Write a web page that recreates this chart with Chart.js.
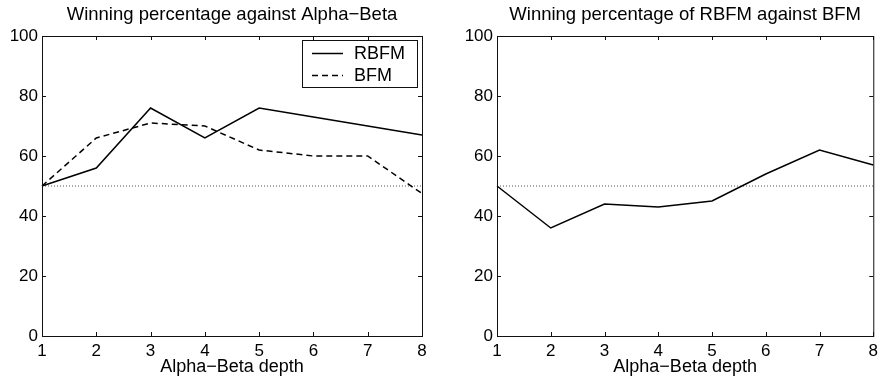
<!DOCTYPE html>
<html>
<head>
<meta charset="utf-8">
<script src="https://cdn.jsdelivr.net/npm/chart.js@4.4.0/dist/chart.umd.min.js"></script>
<style>
  html, body { margin: 0; padding: 0; background: #fff; }
  #wrap { position: relative; width: 883px; height: 378px; overflow: hidden; }
  #left { position: absolute; left: 0; top: 0; }
  #right { position: absolute; left: 441px; top: 0; }
</style>
</head>
<body>
<div id="wrap">
  <canvas id="left" width="441" height="378"></canvas>
  <canvas id="right" width="442" height="378"></canvas>
</div>
<script>
// Data
const depths = ['1', '2', '3', '4', '5', '6', '7', '8'];
const rbfmVsAlphaBeta = [50, 56, 76, 66, 76, 73, 70, 67];
const bfmVsAlphaBeta = [50, 66, 71, 70, 62, 60, 60, 47.5];
const rbfmVsBfm = [50, 36, 44, 43, 45, 54, 62, 57];
const evenLine = [50, 50, 50, 50, 50, 50, 50, 50];
const yTicks = [0, 20, 40, 60, 80, 100];

Chart.defaults.font.family = '"Liberation Sans", Arial, Helvetica, sans-serif';
Chart.defaults.color = '#000';
Chart.defaults.animation = false;

// box around the plot with inward ticks on all four sides
const boxPlugin = {
  id: 'box',
  afterDraw(chart) {
    const ctx = chart.ctx;
    const a = chart.chartArea;
    const xs = chart.scales.x, ys = chart.scales.y;
    ctx.save();
    ctx.strokeStyle = '#111';
    ctx.lineWidth = 1;
    ctx.strokeRect(a.left + 0.5, a.top + 0.5, a.right - a.left, a.bottom - a.top);
    ctx.beginPath();
    depths.forEach((d, i) => {
      const px = Math.round(xs.getPixelForValue(i)) + 0.5;
      ctx.moveTo(px, a.bottom); ctx.lineTo(px, a.bottom - 4);
      ctx.moveTo(px, a.top); ctx.lineTo(px, a.top + 4);
    });
    yTicks.forEach(v => {
      const py = Math.round(ys.getPixelForValue(v)) + 0.5;
      ctx.moveTo(a.left, py); ctx.lineTo(a.left + 4, py);
      ctx.moveTo(a.right, py); ctx.lineTo(a.right - 4, py);
    });
    ctx.stroke();
    ctx.restore();
  }
};

// matlab style legend box, only on the left plot
const legendBoxPlugin = {
  id: 'legendBox',
  afterDraw(chart, args, opts) {
    if (!opts.show) return;
    const ctx = chart.ctx;
    const x0 = 302, y0 = 40, w = 115, h = 47;
    ctx.save();
    ctx.fillStyle = '#fff';
    ctx.fillRect(x0, y0, w, h);
    ctx.strokeStyle = '#111';
    ctx.lineWidth = 1;
    ctx.strokeRect(x0 + 0.5, y0 + 0.5, w, h);
    ctx.font = '18px "Liberation Sans", Arial, sans-serif';
    ctx.textBaseline = 'middle';
    ctx.fillStyle = '#000';
    const rows = chart.data.datasets.filter(ds => ds.label);
    rows.forEach((ds, i) => {
      const y = y0 + 13 + i * 22;
      ctx.beginPath();
      ctx.setLineDash(ds.borderDash || []);
      ctx.lineWidth = ds.borderWidth;
      ctx.strokeStyle = ds.borderColor;
      ctx.moveTo(x0 + 10, y + 0.5);
      ctx.lineTo(x0 + 41, y + 0.5);
      ctx.stroke();
      ctx.setLineDash([]);
      ctx.fillText(ds.label, x0 + 52, y + 1);
    });
    ctx.restore();
  }
};

function makeOptions(title, yWidth, rightPad, showLegend) {
  return {
    responsive: false,
    layout: { padding: { left: 0, right: rightPad, top: 0, bottom: 0 } },
    elements: { point: { radius: 0 }, line: { tension: 0 } },
    plugins: {
      legend: { display: false },
      tooltip: { enabled: false },
      legendBox: { show: showLegend }
    },
    scales: {
      x: {
        type: 'category',
        offset: false,
        grid: { display: false, drawTicks: false },
        border: { display: false },
        ticks: { font: { size: 17 }, padding: 5, maxRotation: 0, autoSkip: false },
        title: { display: true, text: 'Alpha\u2212Beta depth', font: { size: 18 }, padding: 0 },
        afterFit(scale) { scale.height = 42; }
      },
      // top axis only carries the plot title so it is centred over the plot box
      top: {
        type: 'category',
        position: 'top',
        offset: false,
        grid: { display: false, drawTicks: false },
        border: { display: false },
        ticks: { display: false },
        title: { display: true, text: title, font: { size: 18.5 }, padding: { top: 4, bottom: 0 } },
        afterFit(scale) { scale.height = 36; }
      },
      y: {
        min: 0,
        max: 100,
        grid: { display: false, drawTicks: false },
        border: { display: false },
        ticks: { stepSize: 20, font: { size: 17 }, padding: 4 },
        afterFit(scale) { scale.width = yWidth; }
      }
    }
  };
}

function baseDataset() {
  return {
    data: evenLine,
    borderColor: '#555',
    borderWidth: 1,
    borderDash: [1, 2]
  };
}

new Chart(document.getElementById('left'), {
  type: 'line',
  data: {
    labels: depths,
    datasets: [
      { label: 'RBFM', data: rbfmVsAlphaBeta, borderColor: '#000', borderWidth: 1.5 },
      { label: 'BFM', data: bfmVsAlphaBeta, borderColor: '#000', borderWidth: 1.5, borderDash: [6, 4] },
      baseDataset()
    ]
  },
  options: makeOptions('Winning percentage against Alpha\u2212Beta', 42, 19, true),
  plugins: [boxPlugin, legendBoxPlugin]
});

new Chart(document.getElementById('right'), {
  type: 'line',
  data: {
    labels: depths,
    datasets: [
      { label: 'RBFM vs BFM', data: rbfmVsBfm, borderColor: '#000', borderWidth: 1.5 },
      baseDataset()
    ]
  },
  options: makeOptions('Winning percentage of RBFM against BFM', 56, 6, false),
  plugins: [boxPlugin]
});
</script>
</body>
</html>
